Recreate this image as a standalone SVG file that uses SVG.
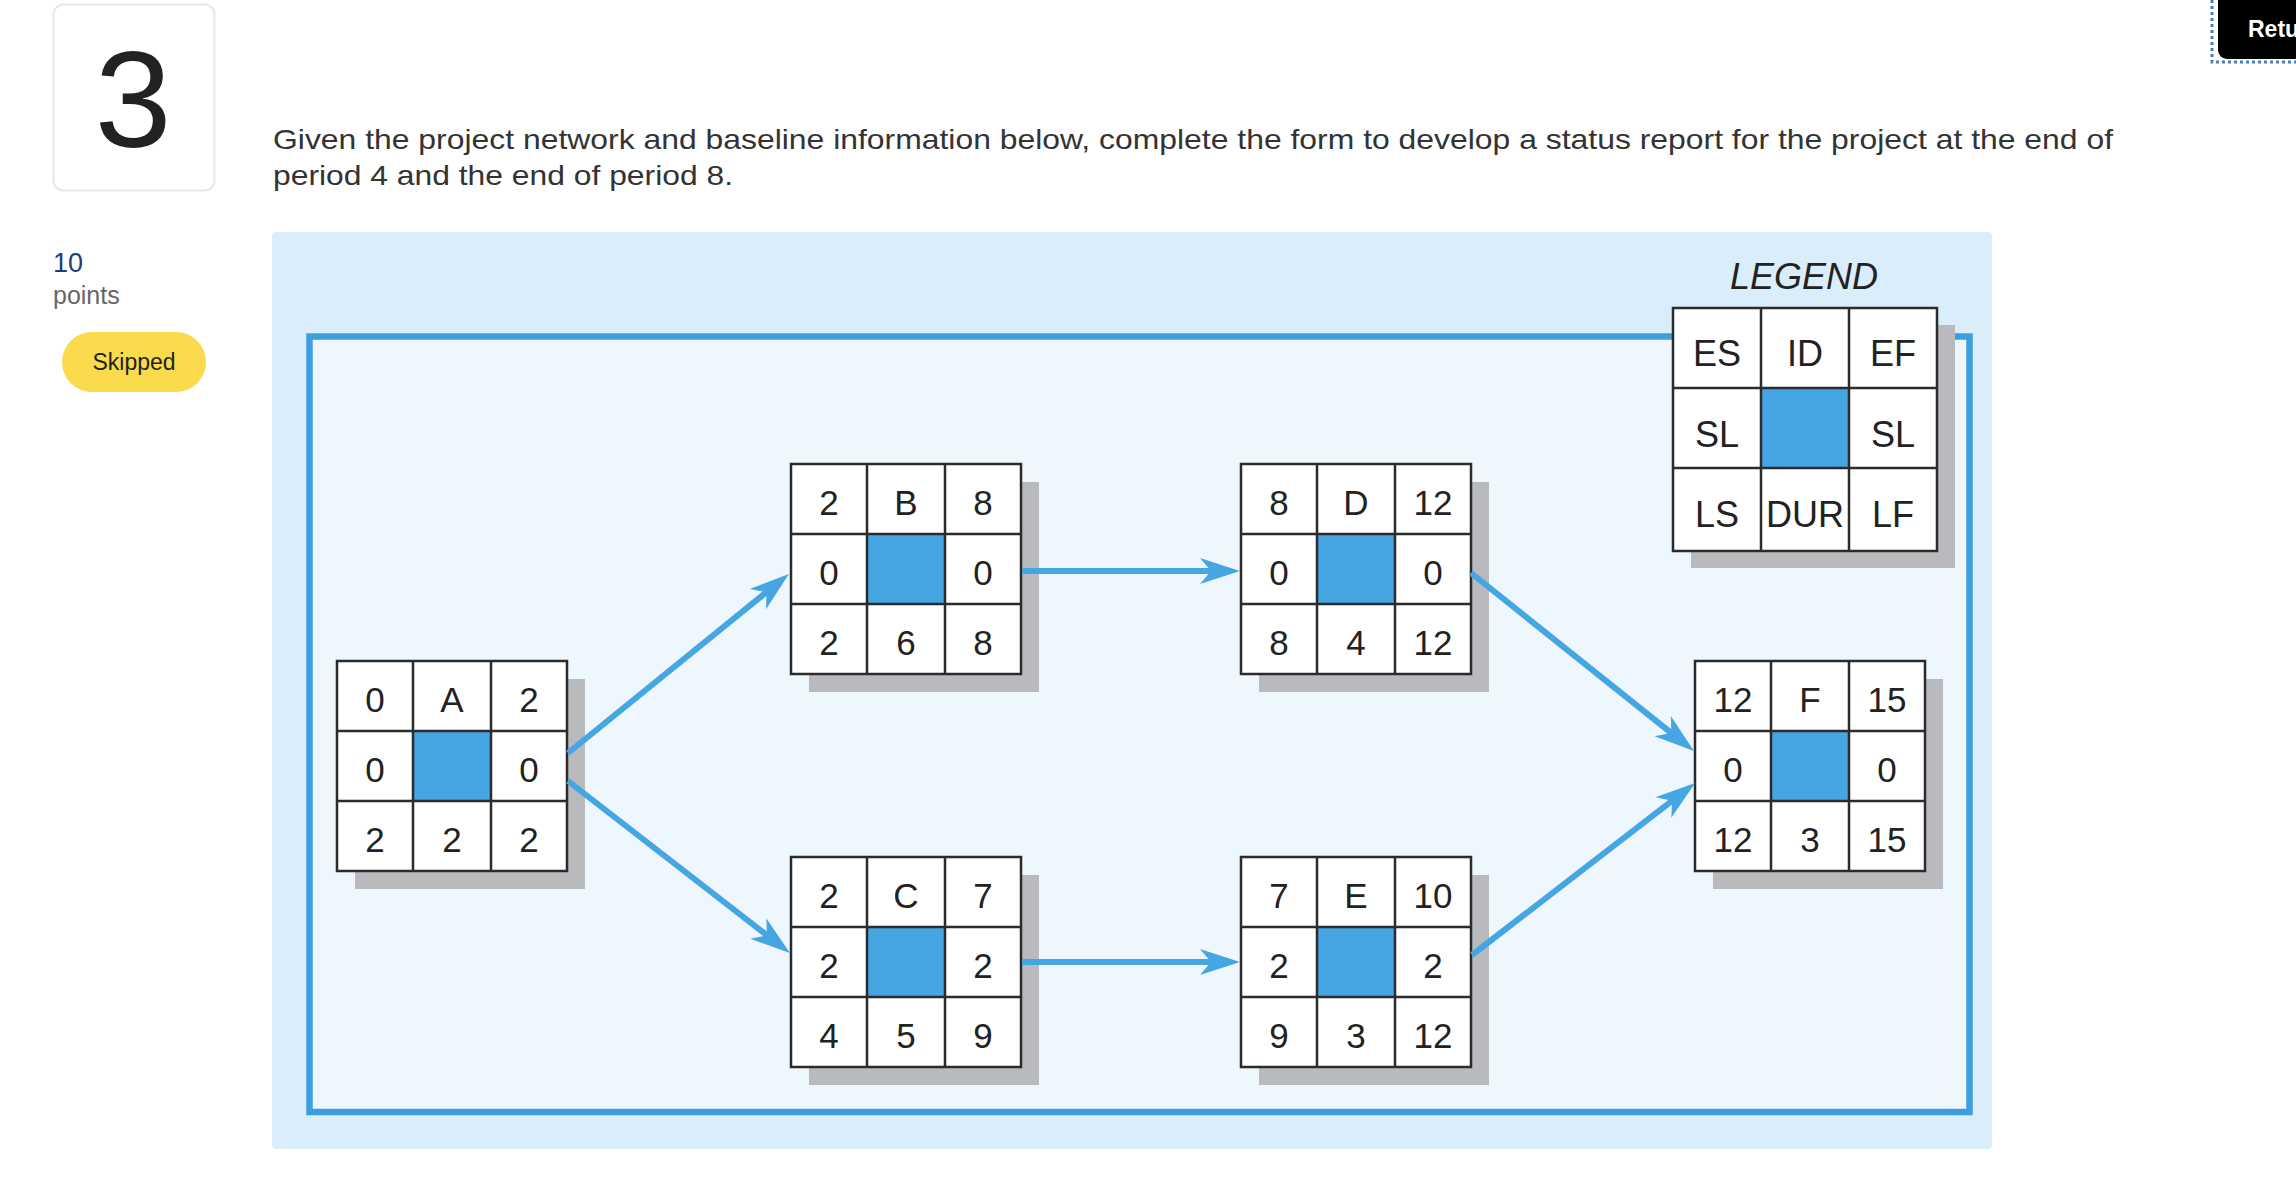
<svg xmlns="http://www.w3.org/2000/svg" width="2296" height="1182" viewBox="0 0 2296 1182">
<defs>
<style>
.t{font-family:"Liberation Sans",Arial,sans-serif;}
.cell{font-family:"Liberation Sans",Arial,sans-serif;font-size:35px;fill:#222;text-anchor:middle;}
.lg{font-family:"Liberation Sans",Arial,sans-serif;font-size:36px;fill:#222;text-anchor:middle;}
.sh{fill:#b9babd;}
.box{fill:#fff;stroke:#2b2b2b;stroke-width:2.5;}
.grid{stroke:#2b2b2b;stroke-width:2.5;fill:none;}
.blue{fill:#45a6e3;}
.conn{stroke:#45a6e3;stroke-width:6;fill:none;marker-end:url(#ah);}
</style>
<marker id="ah" markerUnits="userSpaceOnUse" markerWidth="44" markerHeight="30" viewBox="0 -15 44 30" refX="12" refY="0" orient="auto" overflow="visible">
<path d="M40,0 L0,-13 L11,0 L0,13 Z" fill="#45a6e3"/>
</marker>
</defs>
<rect width="2296" height="1182" fill="#fff"/>

<!-- page chrome -->
<g id="card">
<rect x="53.5" y="4.5" width="161" height="186" rx="10" fill="#fff" stroke="#e8e8e8" stroke-width="2"/>
<text class="t" x="133" y="147" font-size="138" fill="#222" text-anchor="middle">3</text>
</g>
<g id="points">
<text class="t" x="53" y="272" font-size="27" fill="#1f3d7a">10</text>
<text class="t" x="53" y="304" font-size="25" fill="#666">points</text>
</g>
<g id="skipped">
<rect x="62" y="332" width="144" height="60" rx="30" fill="#f9db4b"/>
<text class="t" x="134" y="370" font-size="23" fill="#222" text-anchor="middle">Skipped</text>
</g>
<g id="return">
<rect x="2218" y="-12" width="100" height="71" rx="9" fill="#000"/>
<text class="t" x="2248" y="37" font-size="23" font-weight="bold" fill="#fff">Retu</text>
<path d="M2212,0 V62 H2296" fill="none" stroke="#4a7cc4" stroke-width="3" stroke-dasharray="3 3"/>
</g>
<g id="question">
<text class="t" x="273" y="149" font-size="28" fill="#333" textLength="1840" lengthAdjust="spacingAndGlyphs">Given the project network and baseline information below, complete the form to develop a status report for the project at the end of</text>
<text class="t" x="273" y="185" font-size="28" fill="#333" textLength="460" lengthAdjust="spacingAndGlyphs">period 4 and the end of period 8.</text>
</g>

<!-- diagram panel -->
<rect x="272" y="232" width="1720" height="917" rx="4" fill="#d9eefa"/>
<rect x="309.5" y="336.5" width="1660" height="775.5" fill="#edf7fd" stroke="#3d9ede" stroke-width="6.5"/>

<g id="node-A" transform="translate(337,661)">
<rect class="sh" x="18" y="18" width="230" height="210"/>
<rect class="box" x="0" y="0" width="230" height="210"/>
<rect class="blue" x="76" y="70" width="78" height="70"/>
<path class="grid" d="M76,0 V210 M154,0 V210 M0,70 H230 M0,140 H230"/>
<text class="cell" x="38" y="51">0</text><text class="cell" x="115" y="51">A</text><text class="cell" x="192" y="51">2</text>
<text class="cell" x="38" y="121">0</text><text class="cell" x="192" y="121">0</text>
<text class="cell" x="38" y="191">2</text><text class="cell" x="115" y="191">2</text><text class="cell" x="192" y="191">2</text>
</g>

<g id="node-B" transform="translate(791,464)">
<rect class="sh" x="18" y="18" width="230" height="210"/>
<rect class="box" x="0" y="0" width="230" height="210"/>
<rect class="blue" x="76" y="70" width="78" height="70"/>
<path class="grid" d="M76,0 V210 M154,0 V210 M0,70 H230 M0,140 H230"/>
<text class="cell" x="38" y="51">2</text><text class="cell" x="115" y="51">B</text><text class="cell" x="192" y="51">8</text>
<text class="cell" x="38" y="121">0</text><text class="cell" x="192" y="121">0</text>
<text class="cell" x="38" y="191">2</text><text class="cell" x="115" y="191">6</text><text class="cell" x="192" y="191">8</text>
</g>

<g id="node-C" transform="translate(791,857)">
<rect class="sh" x="18" y="18" width="230" height="210"/>
<rect class="box" x="0" y="0" width="230" height="210"/>
<rect class="blue" x="76" y="70" width="78" height="70"/>
<path class="grid" d="M76,0 V210 M154,0 V210 M0,70 H230 M0,140 H230"/>
<text class="cell" x="38" y="51">2</text><text class="cell" x="115" y="51">C</text><text class="cell" x="192" y="51">7</text>
<text class="cell" x="38" y="121">2</text><text class="cell" x="192" y="121">2</text>
<text class="cell" x="38" y="191">4</text><text class="cell" x="115" y="191">5</text><text class="cell" x="192" y="191">9</text>
</g>

<g id="node-D" transform="translate(1241,464)">
<rect class="sh" x="18" y="18" width="230" height="210"/>
<rect class="box" x="0" y="0" width="230" height="210"/>
<rect class="blue" x="76" y="70" width="78" height="70"/>
<path class="grid" d="M76,0 V210 M154,0 V210 M0,70 H230 M0,140 H230"/>
<text class="cell" x="38" y="51">8</text><text class="cell" x="115" y="51">D</text><text class="cell" x="192" y="51">12</text>
<text class="cell" x="38" y="121">0</text><text class="cell" x="192" y="121">0</text>
<text class="cell" x="38" y="191">8</text><text class="cell" x="115" y="191">4</text><text class="cell" x="192" y="191">12</text>
</g>

<g id="node-E" transform="translate(1241,857)">
<rect class="sh" x="18" y="18" width="230" height="210"/>
<rect class="box" x="0" y="0" width="230" height="210"/>
<rect class="blue" x="76" y="70" width="78" height="70"/>
<path class="grid" d="M76,0 V210 M154,0 V210 M0,70 H230 M0,140 H230"/>
<text class="cell" x="38" y="51">7</text><text class="cell" x="115" y="51">E</text><text class="cell" x="192" y="51">10</text>
<text class="cell" x="38" y="121">2</text><text class="cell" x="192" y="121">2</text>
<text class="cell" x="38" y="191">9</text><text class="cell" x="115" y="191">3</text><text class="cell" x="192" y="191">12</text>
</g>

<g id="node-F" transform="translate(1695,661)">
<rect class="sh" x="18" y="18" width="230" height="210"/>
<rect class="box" x="0" y="0" width="230" height="210"/>
<rect class="blue" x="76" y="70" width="78" height="70"/>
<path class="grid" d="M76,0 V210 M154,0 V210 M0,70 H230 M0,140 H230"/>
<text class="cell" x="38" y="51">12</text><text class="cell" x="115" y="51">F</text><text class="cell" x="192" y="51">15</text>
<text class="cell" x="38" y="121">0</text><text class="cell" x="192" y="121">0</text>
<text class="cell" x="38" y="191">12</text><text class="cell" x="115" y="191">3</text><text class="cell" x="192" y="191">15</text>
</g>

<g id="connectors">
<path class="conn" d="M568,753 L767.2,591.6"/>
<path class="conn" d="M568,781 L767.8,935.9"/>
<path class="conn" d="M1022,571 L1212,571"/>
<path class="conn" d="M1022,962 L1212,962"/>
<path class="conn" d="M1471,573 L1672.1,733.6"/>
<path class="conn" d="M1472,955 L1672.9,800.2"/>
</g>

<g id="legend">
<text class="t" x="1804" y="289" font-size="36" font-style="italic" fill="#222" text-anchor="middle">LEGEND</text>
<g transform="translate(1673,308)">
<rect class="sh" x="18" y="17" width="264" height="243"/>
<rect class="box" x="0" y="0" width="264" height="243"/>
<rect class="blue" x="88" y="80" width="88" height="80"/>
<path class="grid" d="M88,0 V243 M176,0 V243 M0,80 H264 M0,160 H264"/>
<text class="lg" x="44" y="58">ES</text><text class="lg" x="132" y="58">ID</text><text class="lg" x="220" y="58">EF</text>
<text class="lg" x="44" y="139">SL</text><text class="lg" x="220" y="139">SL</text>
<text class="lg" x="44" y="219">LS</text><text class="lg" x="132" y="219">DUR</text><text class="lg" x="220" y="219">LF</text>
</g>
</g>
</svg>
